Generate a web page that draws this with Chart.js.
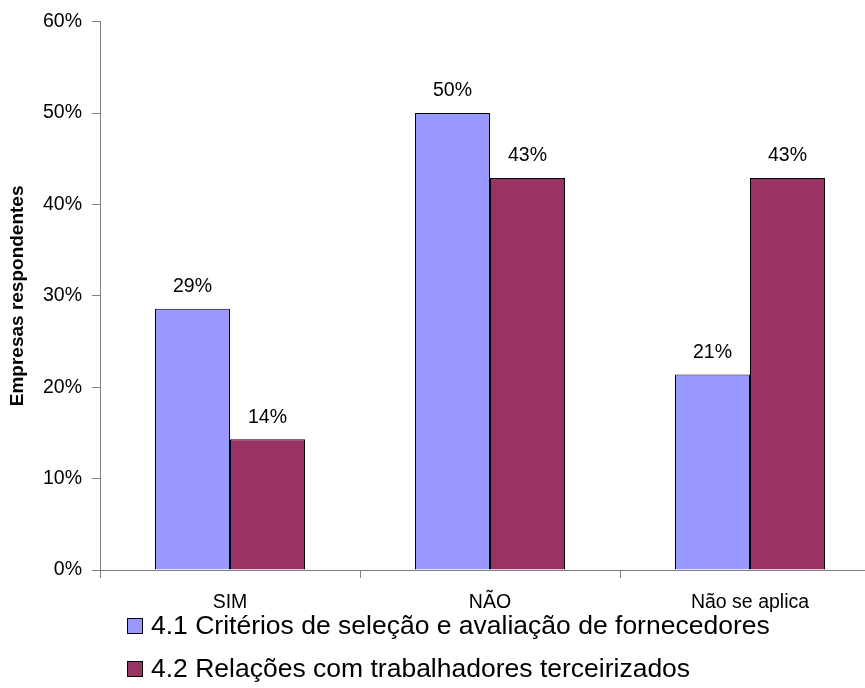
<!DOCTYPE html>
<html>
<head>
<meta charset="utf-8">
<script src="https://cdn.jsdelivr.net/npm/chart.js@4/dist/chart.umd.min.js"></script>
<style>
  html, body { margin: 0; padding: 0; background: #fff; overflow: hidden; }
  #wrap { position: relative; width: 865px; height: 688px; overflow: hidden; }
  #box { position: absolute; left: 0; top: 0; width: 900px; height: 688px; }
  #legend { position: absolute; left: 127px; top: 604px; font-family: "Liberation Sans", Arial, sans-serif; font-size: 26.5px; color: #000; }
  .item { display: flex; align-items: center; height: 43px; white-space: nowrap; }
  .sw { width: 14px; height: 14px; border: 1px solid #000; margin-right: 8px; flex: none; }
</style>
</head>
<body>
<div id="wrap">
  <div id="box"><canvas id="c" width="900" height="688"></canvas></div>
  <div id="legend"></div>
</div>
<script>
// Answer categories and share of responding companies (%)
const categories = ['SIM', 'NÃO', 'Não se aplica'];
const seriesNames = [
  '4.1 Critérios de seleção e avaliação de fornecedores',
  '4.2 Relações com trabalhadores terceirizados'
];
const criteriosValues = [28.6, 50.0, 21.4];
const relacoesValues = [14.3, 42.9, 42.9];
const yTicks = [0, 10, 20, 30, 40, 50, 60];

const colors = ['#9999FF', '#993366'];
const FONT = '"Liberation Sans", Arial, sans-serif';

// Writes the rounded percentage above each bar
const valueLabels = {
  id: 'valueLabels',
  afterDatasetsDraw(chart) {
    const ctx = chart.ctx;
    ctx.save();
    ctx.font = '19.5px ' + FONT;
    ctx.fillStyle = '#000';
    ctx.textAlign = 'center';
    ctx.textBaseline = 'middle';
    chart.data.datasets.forEach((ds, i) => {
      chart.getDatasetMeta(i).data.forEach((bar, j) => {
        ctx.fillText(Math.round(ds.data[j]) + '%', bar.x, bar.y - 22);
      });
    });
    ctx.restore();
  }
};

const chart = new Chart(document.getElementById('c'), {
  type: 'bar',
  data: {
    labels: categories,
    datasets: [
      { label: seriesNames[0], data: criteriosValues, backgroundColor: colors[0], borderColor: '#000', borderWidth: 1 },
      { label: seriesNames[1], data: relacoesValues, backgroundColor: colors[1], borderColor: '#000', borderWidth: 1 }
    ]
  },
  options: {
    responsive: false,
    animation: false,
    layout: { padding: { top: 19, right: 20, left: 0, bottom: 0 } },
    datasets: { bar: { categoryPercentage: 0.577, barPercentage: 1.0 } },
    plugins: { legend: { display: false }, tooltip: { enabled: false } },
    scales: {
      x: {
        afterFit(s) { s.height = 118; },
        grid: { offset: true, drawOnChartArea: false, drawTicks: true, tickLength: 8, color: '#808080' },
        border: { display: true, color: '#808080', width: 1 },
        ticks: { font: { family: FONT, size: 19.5 }, color: '#000', padding: 13 }
      },
      y: {
        min: 0, max: 60,
        afterFit(s) { s.width = 100; },
        afterBuildTicks(s) { s.ticks = yTicks.map(v => ({ value: v })); },
        grid: { drawOnChartArea: false, drawTicks: true, tickLength: 8, color: '#808080' },
        border: { display: true, color: '#808080', width: 1 },
        ticks: { font: { family: FONT, size: 19.5 }, color: '#000', padding: 10, callback: v => v + '%' },
        title: { display: true, text: 'Empresas respondentes', font: { family: FONT, size: 19, weight: 'bold' }, color: '#000', padding: { top: 6, bottom: 0 } }
      }
    }
  },
  plugins: [valueLabels]
});

// Legend stacked in two rows beneath the axis
const legend = document.getElementById('legend');
chart.data.datasets.forEach(ds => {
  const row = document.createElement('div');
  row.className = 'item';
  const sw = document.createElement('span');
  sw.className = 'sw';
  sw.style.background = ds.backgroundColor;
  const txt = document.createElement('span');
  txt.textContent = ds.label;
  row.appendChild(sw);
  row.appendChild(txt);
  legend.appendChild(row);
});
</script>
</body>
</html>
